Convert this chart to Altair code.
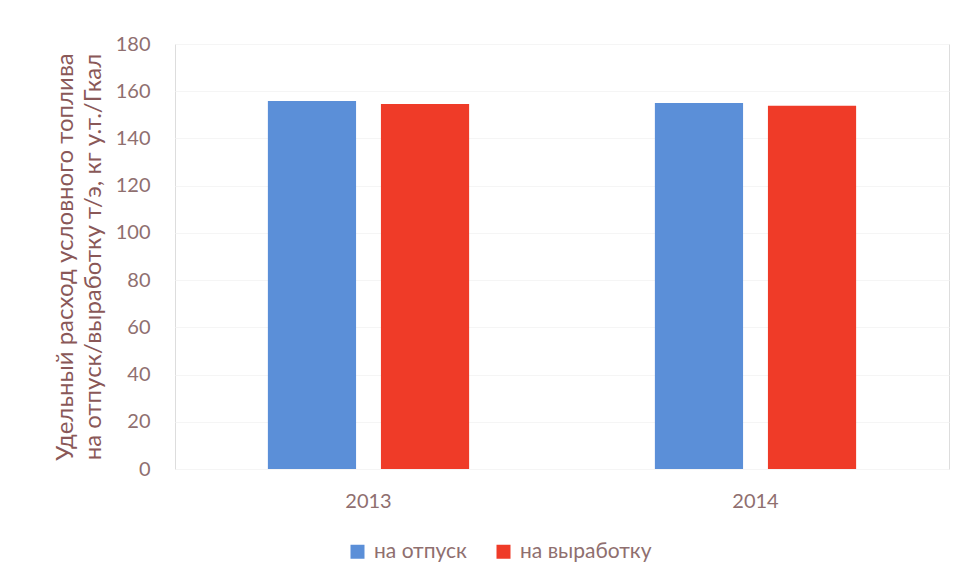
import altair as alt
import pandas as pd

years = ["2013", "2013", "2014", "2014"]
series = ["на отпуск", "на выработку", "на отпуск", "на выработку"]
values = [155.9, 154.6, 155.0, 153.8]
series_order = ["на отпуск", "на выработку"]
colors = ["#5b8fd8", "#ef3b28"]

df = pd.DataFrame({"year": years, "series": series, "value": values})

font = "Lato"
label_color = "#8f6f6f"
title_color = "#8a5858"

chart = alt.Chart(df).mark_bar().encode(
    x=alt.X("year:N", title=None,
            scale=alt.Scale(paddingInner=0.48, paddingOuter=0.24),
            axis=alt.Axis(labelAngle=0, labelFontSize=20, labelColor=label_color,
                          labelFont=font, domain=False, ticks=False, labelPadding=22)),
    xOffset=alt.XOffset("series:N", sort=series_order,
                        scale=alt.Scale(paddingInner=0.22, paddingOuter=0)),
    y=alt.Y("value:Q",
            scale=alt.Scale(domain=[0, 180]),
            axis=alt.Axis(values=list(range(0, 181, 20)),
                          title=["Удельный расход условного топлива",
                                 "на отпуск/выработку т/э, кг у.т./Гкал"],
                          titleFontSize=24, titleFont=font, titleColor=title_color,
                          titleFontWeight="normal", titlePadding=10, titleLineHeight=28,
                          labelFontSize=20, labelFont=font, labelColor=label_color,
                          labelPadding=25, domain=False, ticks=False,
                          gridColor="#f5f5f5", grid=True)),
    color=alt.Color("series:N", sort=series_order,
                    scale=alt.Scale(domain=series_order, range=colors),
                    legend=alt.Legend(title=None, orient="none", direction="horizontal",
                                      legendX=172, legendY=497, symbolType="square",
                                      symbolSize=196, labelFontSize=21, labelFont=font,
                                      labelColor=label_color, columnPadding=26,
                                      labelOffset=6, symbolStrokeWidth=0)),
).properties(
    width=774, height=425,
    autosize=alt.AutoSizeParams(type="none"),
    padding={"left": 175, "top": 44, "right": 19, "bottom": 114},
).configure_view(stroke=None).configure(background="white")

chart.save("out.html", embed_options={"renderer": "svg", "actions": False})
